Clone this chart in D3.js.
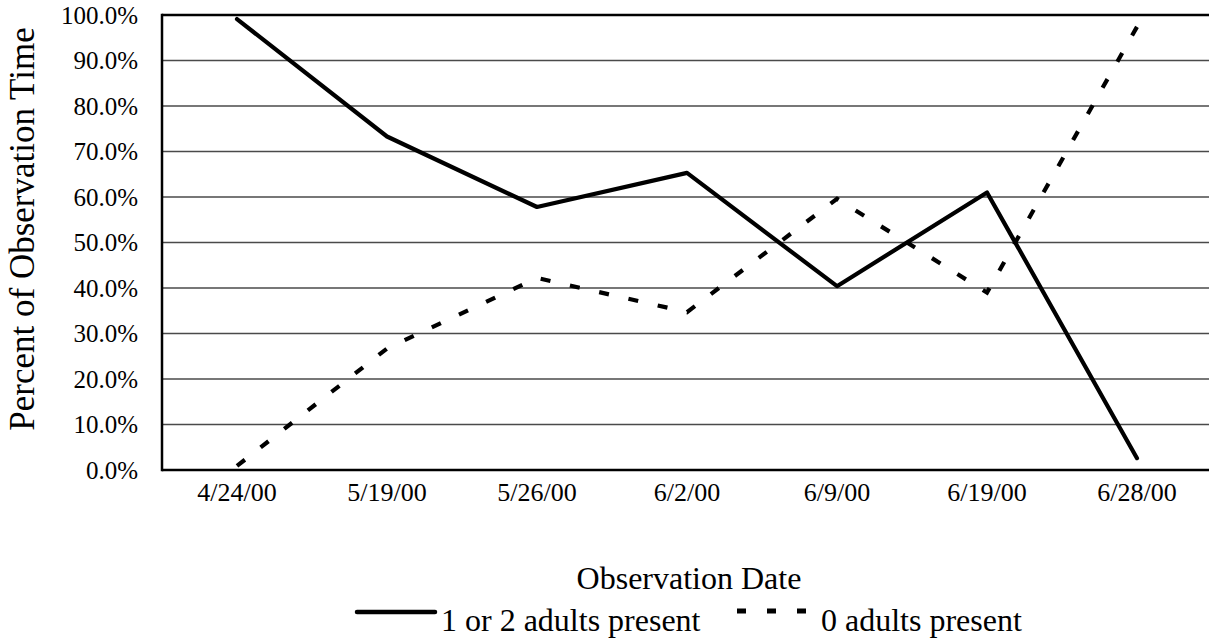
<!DOCTYPE html>
<html>
<head>
<meta charset="utf-8">
<script src="https://cdn.jsdelivr.net/npm/d3@7"></script>
<style>
  html, body { margin: 0; padding: 0; background: #fff; }
  svg { display: block; }
  svg text { font-family: "Liberation Serif", "DejaVu Serif", "Times New Roman", Times, serif; fill: #000; }
</style>
</head>
<body>
<svg id="chart" width="1209" height="639"></svg>
<script>
const categories = ["4/24/00", "5/19/00", "5/26/00", "6/2/00", "6/9/00", "6/19/00", "6/28/00"];
const seriesPresent = [99.1, 73.3, 57.8, 65.3, 40.4, 61.0, 2.6];
const seriesAbsent = [0.9, 26.7, 42.2, 34.7, 59.6, 39.0, 97.4];
const seriesNames = ["1 or 2 adults present", "0 adults present"];
const yTicks = [0, 10, 20, 30, 40, 50, 60, 70, 80, 90, 100];
const yTitle = "Percent of Observation Time";
const xTitle = "Observation Date";

const FONT = "Liberation Serif, DejaVu Serif, serif";
const W = 1209, H = 639;
const margin = { left: 162, top: 15, right: -3, bottom: 169 };
const plotW = W - margin.left - margin.right;
const plotH = H - margin.top - margin.bottom;

const svg = d3.select("#chart");
const g = svg.append("g").attr("transform", `translate(${margin.left},${margin.top})`);

const x = d3.scaleBand().domain(categories).range([0, plotW]).paddingInner(0).paddingOuter(0);
const y = d3.scaleLinear().domain([0, 100]).range([plotH, 0]);

// gridlines
g.append("g").selectAll("line").data(yTicks.filter(t => t > 0 && t < 100)).join("line")
  .attr("x1", 0).attr("x2", plotW)
  .attr("y1", d => y(d)).attr("y2", d => y(d))
  .attr("stroke", "#4a4a4a").attr("stroke-width", 1.3);

// top border
g.append("line").attr("x1", 0).attr("x2", plotW).attr("y1", y(100)).attr("y2", y(100))
  .attr("stroke", "#000").attr("stroke-width", 2.5);

// y axis
const yAxis = g.append("g").call(d3.axisLeft(y).tickValues(yTicks).tickSize(0).tickPadding(24)
  .tickFormat(d => d.toFixed(1) + "%"));
yAxis.attr("font-family", FONT).attr("font-size", null);
yAxis.select(".domain").remove();
yAxis.selectAll("text").attr("font-family", FONT).style("font-size", "25px");
g.append("line").attr("x1", 0).attr("x2", 0).attr("y1", -1.25).attr("y2", plotH + 1.25)
  .attr("stroke", "#000").attr("stroke-width", 2.5);

// x axis
const xAxis = g.append("g").attr("transform", `translate(0,${plotH})`)
  .call(d3.axisBottom(x).tickSize(0).tickPadding(13));
xAxis.attr("font-family", FONT).attr("font-size", null);
xAxis.select(".domain").remove();
xAxis.selectAll("text").attr("font-family", FONT).style("font-size", "26px");
g.append("line").attr("x1", 0).attr("x2", plotW).attr("y1", plotH).attr("y2", plotH)
  .attr("stroke", "#000").attr("stroke-width", 2.5);

const line = d3.line().x((d, i) => x(categories[i]) + x.bandwidth() / 2).y(d => y(d));

g.append("path").datum(seriesPresent).attr("d", line)
  .attr("fill", "none").attr("stroke", "#000").attr("stroke-width", 4.2)
  .attr("stroke-linejoin", "round").attr("stroke-linecap", "round");

g.append("path").datum(seriesAbsent).attr("d", line)
  .attr("fill", "none").attr("stroke", "#000").attr("stroke-width", 4.2)
  .attr("stroke-dasharray", "10,20").attr("stroke-linejoin", "miter");

// axis titles
svg.append("text").attr("transform", `translate(34,229) rotate(-90)`)
  .attr("font-family", FONT)
  .attr("text-anchor", "middle").style("font-size", "35px").text(yTitle);
svg.append("text").attr("x", 689).attr("y", 589).attr("font-family", FONT)
  .attr("text-anchor", "middle").style("font-size", "32px").text(xTitle);

// legend
const leg = svg.append("g");
leg.append("line").attr("x1", 357).attr("x2", 435).attr("y1", 612).attr("y2", 612)
  .attr("stroke", "#000").attr("stroke-width", 4.5).attr("stroke-linecap", "round");
leg.append("text").attr("x", 441).attr("y", 631).attr("font-family", FONT)
  .style("font-size", "32px").text(seriesNames[0]);
leg.append("line").attr("x1", 737).attr("x2", 809).attr("y1", 611).attr("y2", 611)
  .attr("stroke", "#000").attr("stroke-width", 5).attr("stroke-dasharray", "9,21");
leg.append("text").attr("x", 821).attr("y", 631).attr("font-family", FONT)
  .style("font-size", "32px").text(seriesNames[1]);
</script>
</body>
</html>
